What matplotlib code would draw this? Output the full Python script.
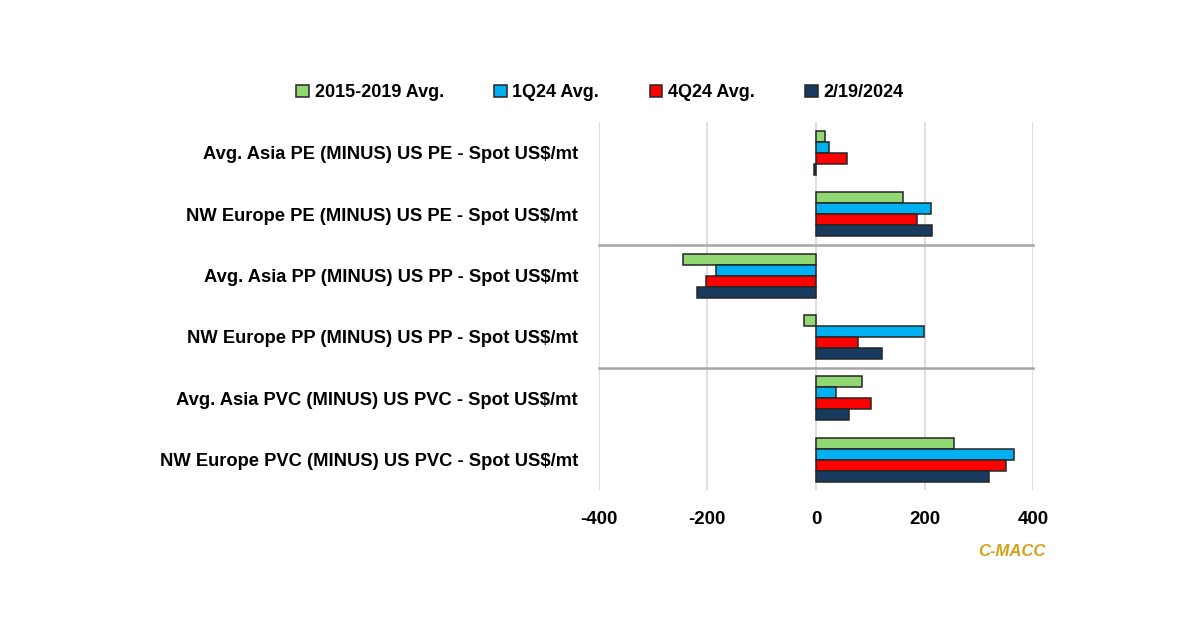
import numpy as np
import matplotlib
matplotlib.use('Agg')
import matplotlib.pyplot as plt

plt.rcParams['font.family'] = ['Liberation Sans', 'DejaVu Sans']

# ── dati ──────────────────────────────────────────────────────────────────────
categories = [
    'Avg. Asia PE (MINUS) US PE - Spot US$/mt',
    'NW Europe PE (MINUS) US PE - Spot US$/mt',
    'Avg. Asia PP (MINUS) US PP - Spot US$/mt',
    'NW Europe PP (MINUS) US PP - Spot US$/mt',
    'Avg. Asia PVC (MINUS) US PVC - Spot US$/mt',
    'NW Europe PVC (MINUS) US PVC - Spot US$/mt',
]
series_names = ['2015-2019 Avg.', '1Q24 Avg.', '4Q24 Avg.', '2/19/2024']
avg_2015_2019 = [16, 161, -245, -23, 84, 255]
avg_1q24      = [24, 212, -185, 198, 36, 364]
avg_4q24      = [57, 186, -202, 78, 102, 350]
spot_0219     = [-3, 214, -220, 121, 60, 318]
xticks = [-400, -200, 0, 200, 400]

colors = ['#92D872', '#00B0F0', '#FF0000', '#173A5E']

# ── figura ────────────────────────────────────────────────────────────────────
fig = plt.figure(figsize=(12, 6.27), dpi=100)
ax = fig.add_axes([0.499, 0.218, 0.362, 0.587])

y = np.arange(len(categories))
h = 0.18
offsets = [-1.5 * h, -0.5 * h, 0.5 * h, 1.5 * h]
all_series = [avg_2015_2019, avg_1q24, avg_4q24, spot_0219]
for vals, off, col, name in zip(all_series, offsets, colors, series_names):
    ax.barh(y + off, vals, height=h, color=col, edgecolor='#262626',
            linewidth=1.1, label=name, zorder=3)

ax.set_xlim(-400, 400)
ax.set_ylim(5.5, -0.5)
ax.set_xticks(xticks)
ax.set_xticklabels([str(t) for t in xticks], fontsize=13.5, fontweight='bold')
ax.set_yticks(y)
ax.set_yticklabels(categories, fontsize=13.2, fontweight='bold')
ax.tick_params(axis='both', length=0)
ax.tick_params(axis='x', pad=15)
ax.tick_params(axis='y', pad=15)
for s in ax.spines.values():
    s.set_visible(False)
ax.grid(axis='x', color='#D9D9D9', lw=1.2, zorder=0)

for yy in [1.5, 3.5]:
    ax.axhline(yy, color='#A6A6A6', lw=1.8, zorder=2, clip_on=False)

leg = fig.legend(loc='center', bbox_to_anchor=(0.5, 0.852), ncol=4,
                 frameon=False, prop={'size': 13, 'weight': 'bold'},
                 handlelength=0.7, handleheight=0.7, handletextpad=0.3,
                 columnspacing=2.8)

fig.text(0.871, 0.121, 'C-MACC', color='#D4A017', fontsize=12,
         fontweight='bold', style='italic', ha='right', va='center')

fig.savefig('out.png', dpi=100, facecolor='white')
